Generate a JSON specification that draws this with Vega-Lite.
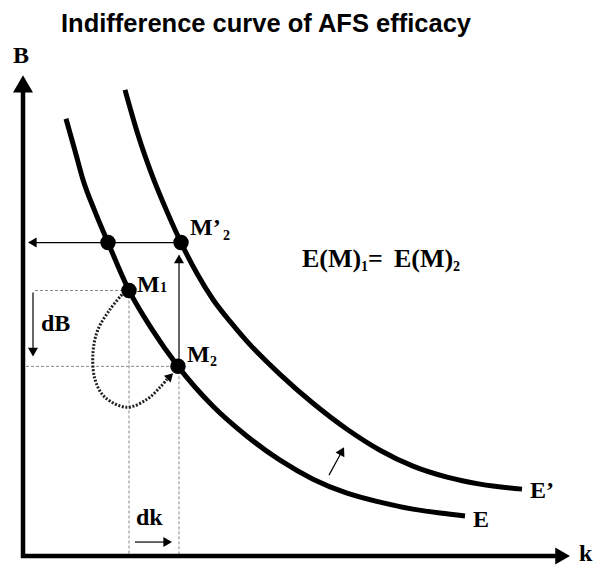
{
  "$schema": "https://vega.github.io/schema/vega-lite/v6.json",
  "width": 593,
  "height": 566,
  "padding": 0,
  "autosize": {"type": "fit", "contains": "padding"},
  "background": "white",
  "config": {"view": {"stroke": null}},
  "datasets": {
    "curves": [
      {"c": "E", "k": 66, "B": 447}, {"c": "E", "k": 75, "B": 415}, {"c": "E", "k": 83, "B": 386},
      {"c": "E", "k": 95, "B": 354}, {"c": "E", "k": 108, "B": 323}, {"c": "E", "k": 129, "B": 275},
      {"c": "E", "k": 152, "B": 236}, {"c": "E", "k": 178, "B": 199}, {"c": "E", "k": 213, "B": 159},
      {"c": "E", "k": 247, "B": 129}, {"c": "E", "k": 280, "B": 105}, {"c": "E", "k": 313, "B": 86},
      {"c": "E", "k": 347, "B": 72}, {"c": "E", "k": 380, "B": 63}, {"c": "E", "k": 413, "B": 56},
      {"c": "E", "k": 440, "B": 52}, {"c": "E", "k": 465, "B": 49},
      {"c": "E'", "k": 125, "B": 476}, {"c": "E'", "k": 138, "B": 431}, {"c": "E'", "k": 153, "B": 388},
      {"c": "E'", "k": 167, "B": 354}, {"c": "E'", "k": 181, "B": 323}, {"c": "E'", "k": 197, "B": 292},
      {"c": "E'", "k": 213, "B": 266}, {"c": "E'", "k": 230, "B": 244}, {"c": "E'", "k": 247, "B": 224},
      {"c": "E'", "k": 280, "B": 191}, {"c": "E'", "k": 313, "B": 162}, {"c": "E'", "k": 347, "B": 136},
      {"c": "E'", "k": 380, "B": 115}, {"c": "E'", "k": 413, "B": 99}, {"c": "E'", "k": 447, "B": 88},
      {"c": "E'", "k": 480, "B": 81}, {"c": "E'", "k": 522, "B": 76}
    ],
    "loop": [
      {"i": 0, "k": 122, "B": 271}, {"i": 1, "k": 110, "B": 256}, {"i": 2, "k": 98, "B": 236},
      {"i": 3, "k": 93, "B": 213}, {"i": 4, "k": 95, "B": 186}, {"i": 5, "k": 105, "B": 168},
      {"i": 6, "k": 127, "B": 158}, {"i": 7, "k": 147, "B": 166}, {"i": 8, "k": 160, "B": 178},
      {"i": 9, "k": 167, "B": 186}
    ],
    "dots": [
      {"k": 108, "B": 323}, {"k": 129, "B": 275}, {"k": 178, "B": 199}, {"k": 181, "B": 323}
    ],
    "thin": [
      {"k": 36, "B": 323, "k2": 181, "B2": 323},
      {"k": 179, "B": 199, "k2": 179, "B2": 303},
      {"k": 33, "B": 273, "k2": 33, "B2": 215},
      {"k": 135, "B": 23, "k2": 166, "B2": 23},
      {"k": 329, "B": 90, "k2": 342, "B2": 114}
    ],
    "dotted": [
      {"k": 35, "B": 275, "k2": 129, "B2": 275},
      {"k": 26, "B": 199, "k2": 178, "B2": 199},
      {"k": 129, "B": 275, "k2": 129, "B2": 9},
      {"k": 179, "B": 199, "k2": 179, "B2": 9}
    ],
    "axes": [
      {"k": 23, "B": 7, "k2": 23, "B2": 476},
      {"k": 21, "B": 9, "k2": 558, "B2": 9}
    ],
    "heads": [
      {"k": 23, "B": 482, "s": 400, "a": 0},
      {"k": 562.6, "B": 9, "s": 289, "a": 90},
      {"k": 32.3, "B": 323, "s": 100, "a": 270},
      {"k": 179, "B": 306.7, "s": 100, "a": 0},
      {"k": 33, "B": 213.3, "s": 100, "a": 180},
      {"k": 167.7, "B": 23, "s": 100, "a": 90},
      {"k": 342, "B": 114.2, "s": 100, "a": 28},
      {"k": 170.2, "B": 189.2, "s": 90, "a": 45}
    ],
    "labels": [
      {"t": "B", "k": 13, "B": 503, "fs": 24},
      {"t": "k", "k": 579, "B": 4, "fs": 24},
      {"t": "M’", "k": 190, "B": 331, "fs": 24},
      {"t": "2", "k": 223, "B": 326, "fs": 14},
      {"t": "M", "k": 137, "B": 273, "fs": 24},
      {"t": "1", "k": 160, "B": 273, "fs": 14},
      {"t": "M", "k": 187, "B": 203, "fs": 24},
      {"t": "2", "k": 210, "B": 199, "fs": 14},
      {"t": "E(M)", "k": 302, "B": 299, "fs": 26},
      {"t": "=", "k": 368, "B": 299, "fs": 26},
      {"t": "E(M)", "k": 394, "B": 299, "fs": 26},
      {"t": "1", "k": 361, "B": 295, "fs": 14},
      {"t": "2", "k": 453, "B": 295, "fs": 14},
      {"t": "dB", "k": 41, "B": 234, "fs": 24},
      {"t": "dk", "k": 136, "B": 40, "fs": 24},
      {"t": "E", "k": 473, "B": 38, "fs": 24},
      {"t": "E’", "k": 530, "B": 67, "fs": 24}
    ],
    "title": [
      {"t": "Indifference curve of AFS efficacy", "k": 266, "B": 534}
    ]
  },
  "layer": [
    {
      "data": {"name": "dotted"},
      "mark": {"type": "rule", "color": "#888888", "strokeWidth": 1, "strokeDash": [3, 2]},
      "encoding": {
        "x": {"field": "k", "type": "quantitative", "scale": {"domain": [0, 593], "nice": false, "zero": false}, "axis": null},
        "y": {"field": "B", "type": "quantitative", "scale": {"domain": [0, 566], "nice": false, "zero": false}, "axis": null},
        "x2": {"field": "k2"},
        "y2": {"field": "B2"}
      }
    },
    {
      "data": {"name": "thin"},
      "mark": {"type": "rule", "color": "black", "strokeWidth": 1.2},
      "encoding": {
        "x": {"field": "k", "type": "quantitative"},
        "y": {"field": "B", "type": "quantitative"},
        "x2": {"field": "k2"},
        "y2": {"field": "B2"}
      }
    },
    {
      "data": {"name": "axes"},
      "mark": {"type": "rule", "color": "black", "strokeWidth": 4.5},
      "encoding": {
        "x": {"field": "k", "type": "quantitative"},
        "y": {"field": "B", "type": "quantitative"},
        "x2": {"field": "k2"},
        "y2": {"field": "B2"}
      }
    },
    {
      "data": {"name": "curves"},
      "mark": {"type": "line", "color": "black", "strokeWidth": 5, "interpolate": "monotone"},
      "encoding": {
        "x": {"field": "k", "type": "quantitative"},
        "y": {"field": "B", "type": "quantitative"},
        "detail": {"field": "c"},
        "order": {"field": "k"}
      }
    },
    {
      "data": {"name": "loop"},
      "mark": {"type": "line", "color": "#222222", "strokeWidth": 3, "strokeDash": [2, 1.6], "interpolate": "catmull-rom"},
      "encoding": {
        "x": {"field": "k", "type": "quantitative"},
        "y": {"field": "B", "type": "quantitative"},
        "order": {"field": "i"}
      }
    },
    {
      "data": {"name": "dots"},
      "mark": {"type": "point", "shape": "circle", "filled": true, "color": "black", "opacity": 1, "size": 240},
      "encoding": {
        "x": {"field": "k", "type": "quantitative"},
        "y": {"field": "B", "type": "quantitative"}
      }
    },
    {
      "data": {"name": "heads"},
      "mark": {"type": "point", "shape": "triangle-up", "filled": true, "color": "black", "opacity": 1},
      "encoding": {
        "x": {"field": "k", "type": "quantitative"},
        "y": {"field": "B", "type": "quantitative"},
        "size": {"field": "s", "type": "quantitative", "scale": null},
        "angle": {"field": "a", "type": "quantitative", "scale": null}
      }
    },
    {
      "data": {"name": "labels"},
      "mark": {"type": "text", "font": "Liberation Serif", "fontWeight": "bold", "align": "left", "baseline": "alphabetic", "color": "black"},
      "encoding": {
        "x": {"field": "k", "type": "quantitative"},
        "y": {"field": "B", "type": "quantitative"},
        "text": {"field": "t"},
        "size": {"field": "fs", "type": "quantitative", "scale": null}
      }
    },
    {
      "data": {"name": "title"},
      "mark": {"type": "text", "font": "Liberation Sans", "fontWeight": "bold", "fontSize": 25.5, "align": "center", "baseline": "alphabetic", "color": "black"},
      "encoding": {
        "x": {"field": "k", "type": "quantitative"},
        "y": {"field": "B", "type": "quantitative"},
        "text": {"field": "t"}
      }
    }
  ]
}
